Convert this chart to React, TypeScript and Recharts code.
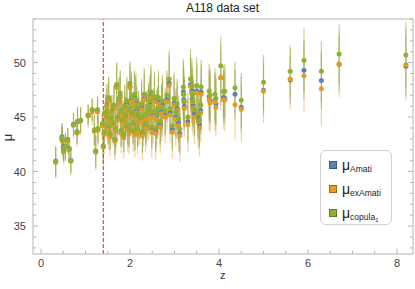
import { ScatterChart, Scatter, XAxis, YAxis, ErrorBar, ReferenceLine } from "recharts";

// redshift of each GRB in the A118 sample
const z = [
  0.33, 0.47, 0.48, 0.5, 0.51, 0.55, 0.6, 0.63, 0.67, 0.73, 0.81, 0.82, 0.89, 1.06, 1.15, 1.2, 1.23, 1.27, 1.28,
  1.38, 1.4, 1.42, 1.45, 1.48, 1.48, 1.51, 1.52, 1.55, 1.57, 1.59, 1.62, 1.64, 1.66, 1.68, 1.7, 1.72, 1.75, 1.78,
  1.8, 1.8, 1.84, 1.86, 1.88, 1.9, 1.93, 1.95, 1.98, 2.0, 2.0, 2.03, 2.05, 2.07, 2.1, 2.11, 2.13, 2.15, 2.17, 2.19,
  2.22, 2.26, 2.28, 2.3, 2.32, 2.35, 2.37, 2.4, 2.42, 2.45, 2.47, 2.49, 2.52, 2.55, 2.58, 2.6, 2.62, 2.64, 2.68,
  2.71, 2.73, 2.79, 2.83, 2.88, 2.9, 2.95, 2.99, 3.03, 3.06, 3.09, 3.12, 3.2, 3.21, 3.22, 3.3, 3.36, 3.39, 3.4,
  3.42, 3.45, 3.5, 3.53, 3.56, 3.59, 3.6, 3.78, 3.8, 3.91, 3.93, 4.04, 4.1, 4.13, 4.36, 4.5, 5.0, 5.6, 5.91, 6.3,
  6.7, 8.2,
];

const muAmati = [
  40.97, 43.2, 42.95, 42.3, 42.0, 42.35, 42.95, 42.15, 41.05, 44.35, 43.65, 44.6, 44.7, 45.15, 45.6, 43.75, 41.9, 45.55, 43.9,
  44.3, 42.35, 43.5, 45.3, 46.0, 45.0, 44.0, 46.6, 43.4, 44.7, 45.4, 44.3, 45.9, 42.9, 43.8, 47.8, 44.8, 46.4, 46.9,
  45.3, 43.6, 44.6, 43.3, 45.7, 44.9, 46.2, 44.1, 43.7, 47.8, 45.5, 46.6, 45.1, 44.3, 46.8, 43.6, 46.3, 45.6, 43.8, 45.0,
  44.6, 45.9, 43.5, 44.7, 46.7, 44.2, 45.0, 45.3, 45.7, 46.1, 46.9, 43.9, 45.2, 46.5, 43.7, 45.0, 45.4, 46.4, 44.3,
  45.5, 46.1, 45.2, 46.6, 48.1, 45.4, 43.9, 46.3, 45.0, 45.8, 44.5, 43.5, 47.3, 46.6, 46.0, 44.6, 48.0, 47.4, 46.6,
  46.1, 45.3, 47.4, 44.9, 44.3, 45.6, 47.3, 46.9, 46.5, 46.6, 46.2, 48.6, 46.8, 46.73, 47.1, 45.9, 47.47, 48.4, 49.3, 48.35,
  49.85, 49.66,
];

const muExAmati = [
  40.9, 43.0, 42.8, 42.2, 41.85, 42.25, 42.8, 42.0, 40.95, 44.25, 43.55, 44.55, 44.65, 45.1, 45.5, 43.7, 41.8, 45.5, 43.8,
  44.2, 42.25, 43.4, 45.2, 45.9, 44.9, 43.9, 46.5, 43.2, 44.6, 45.3, 44.2, 45.8, 42.8, 43.7, 47.7, 44.7, 46.3, 46.8,
  45.2, 43.5, 44.4, 43.1, 45.6, 44.8, 46.0, 43.9, 43.5, 47.7, 45.4, 46.4, 45.0, 44.1, 46.6, 43.4, 46.1, 45.4, 43.6, 44.9,
  44.5, 45.7, 43.3, 44.6, 46.6, 44.0, 44.8, 45.1, 45.5, 46.0, 46.8, 43.6, 45.0, 46.4, 43.5, 44.8, 45.3, 46.2, 44.1,
  45.3, 45.9, 45.0, 46.4, 47.9, 45.2, 43.6, 46.1, 44.8, 45.6, 44.2, 43.3, 47.1, 46.4, 45.8, 44.3, 47.8, 47.2, 46.4,
  45.8, 45.0, 47.2, 44.6, 44.0, 45.4, 47.1, 46.6, 46.3, 46.4, 45.9, 48.6, 46.6, 46.6, 46.13, 45.73, 47.38, 48.5, 48.8, 47.6,
  49.85, 49.8,
];

const muCopula = [
  40.85, 43.1, 42.9, 42.2, 41.9, 42.3, 42.9, 42.1, 41.0, 44.3, 43.6, 44.6, 44.7, 45.2, 45.7, 43.85, 41.85, 45.7, 43.95,
  44.4, 42.3, 43.6, 45.5, 46.2, 45.15, 44.2, 46.8, 43.5, 44.9, 45.6, 44.5, 46.1, 43.0, 44.0, 48.0, 45.0, 46.7, 47.2,
  45.6, 43.8, 44.8, 43.4, 46.0, 45.2, 46.5, 44.3, 43.9, 48.1, 45.8, 46.9, 45.4, 44.5, 47.1, 43.8, 46.6, 45.9, 44.0, 45.3,
  44.9, 46.2, 43.7, 45.0, 47.1, 44.4, 45.3, 45.6, 46.0, 46.5, 47.3, 44.1, 45.5, 46.9, 44.0, 45.3, 45.8, 46.8, 44.6,
  45.9, 46.5, 45.6, 47.0, 48.5, 45.8, 44.2, 46.7, 45.45, 46.2, 44.85, 43.9, 47.75, 47.1, 46.4, 45.0, 48.5, 47.9, 47.1,
  46.5, 45.7, 47.9, 45.3, 44.7, 46.1, 47.75, 47.4, 47.0, 47.1, 46.7, 49.7, 47.35, 47.37, 47.7, 46.55, 48.2, 49.2, 50.2, 49.2,
  50.8, 50.7,
];

const errAmati = [
  1.3, 1.2, 1.1, 1.0, 1.0, 1.1, 1.0, 1.0, 1.1, 1.0, 1.0, 1.2, 1.1, 0.9, 1.0, 1.3, 1.4, 1.1, 1.2,
  1.1, 1.3, 1.4, 1.5, 1.6, 1.4, 1.5, 1.7, 1.4, 1.6, 1.3, 1.5, 1.7, 1.4, 1.6, 1.8, 1.5, 1.7, 1.9,
  1.6, 1.4, 1.7, 1.5, 1.8, 1.6, 2.0, 1.7, 1.5, 1.8, 1.7, 2.1, 1.6, 1.8, 2.0, 1.7, 2.2, 1.8, 1.6, 1.9,
  1.7, 2.1, 1.8, 1.8, 2.2, 1.7, 1.9, 1.8, 2.0, 2.2, 2.3, 1.8, 1.9, 2.1, 1.9, 2.0, 1.8, 2.3, 1.9,
  2.0, 2.2, 1.9, 2.1, 2.4, 2.0, 1.9, 2.2, 2.0, 2.1, 1.9, 1.9, 2.4, 2.2, 2.1, 2.0, 2.5, 2.3, 2.2,
  2.1, 2.0, 2.4, 2.0, 2.1, 2.2, 2.3, 2.3, 2.2, 2.2, 2.1, 2.5, 2.2, 2.3, 2.3, 2.3, 2.3, 2.2, 2.6, 2.6,
  2.5, 2.8,
];

const errExAmati = [
  1.5, 1.4, 1.3, 1.2, 1.2, 1.3, 1.2, 1.2, 1.3, 1.2, 1.3, 1.4, 1.3, 1.1, 1.2, 1.6, 1.7, 1.4, 1.5,
  1.4, 1.7, 1.8, 1.9, 2.1, 1.8, 1.9, 2.2, 1.8, 2.0, 1.7, 1.9, 2.2, 1.8, 2.0, 2.3, 1.9, 2.2, 2.4,
  2.0, 1.8, 2.1, 1.9, 2.3, 2.0, 2.5, 2.1, 1.9, 2.3, 2.2, 2.6, 2.0, 2.3, 2.5, 2.1, 2.7, 2.3, 2.0, 2.4,
  2.1, 2.6, 2.3, 2.3, 2.7, 2.2, 2.4, 2.3, 2.5, 2.7, 2.8, 2.3, 2.4, 2.6, 2.4, 2.5, 2.3, 2.8, 2.4,
  2.5, 2.7, 2.4, 2.6, 2.9, 2.5, 2.4, 2.7, 2.5, 2.6, 2.4, 2.4, 2.9, 2.7, 2.6, 2.5, 3.0, 2.8, 2.7,
  2.6, 2.5, 2.9, 2.5, 2.6, 2.7, 2.8, 2.8, 2.7, 2.7, 2.6, 3.0, 2.7, 2.9, 3.2, 3.0, 2.9, 2.8, 3.3, 3.4,
  3.0, 3.3,
];

const errCopula = [
  1.4, 1.3, 1.2, 1.1, 1.0, 1.2, 1.1, 1.0, 1.2, 1.0, 1.1, 1.3, 1.2, 0.9, 1.0, 1.4, 1.5, 1.2, 1.3,
  1.2, 1.4, 1.5, 1.6, 1.8, 1.5, 1.6, 1.9, 1.5, 1.7, 1.4, 1.6, 1.8, 1.5, 1.7, 2.0, 1.6, 1.9, 2.1,
  1.7, 1.5, 1.8, 1.6, 2.0, 1.7, 2.2, 1.8, 1.6, 2.0, 1.9, 2.3, 1.7, 1.9, 2.2, 1.8, 2.4, 2.0, 1.7, 2.1,
  1.8, 2.3, 1.9, 2.0, 2.4, 1.8, 2.1, 1.9, 2.2, 2.4, 2.5, 1.9, 2.1, 2.3, 2.0, 2.2, 2.0, 2.5, 2.1,
  2.2, 2.4, 2.1, 2.3, 2.6, 2.2, 2.0, 2.4, 2.2, 2.3, 2.1, 2.0, 2.6, 2.4, 2.3, 2.2, 2.7, 2.5, 2.4,
  2.3, 2.2, 2.6, 2.2, 2.3, 2.4, 2.5, 2.5, 2.4, 2.4, 2.3, 2.7, 2.4, 2.5, 2.4, 2.5, 2.5, 2.4, 2.9, 2.8,
  2.7, 3.0,
];

const xTicks = [0, 0.5, 1, 1.5, 2, 2.5, 3, 3.5, 4, 4.5, 5, 5.5, 6, 6.5, 7, 7.5, 8];
const xLabels = [0, 2, 4, 6, 8];
const yTicks = [33, 34, 35, 36, 37, 38, 39, 40, 41, 42, 43, 44, 45, 46, 47, 48, 49, 50, 51, 52, 53, 54];
const yLabels = [35, 40, 45, 50];
const zSplit = 1.4;

const BLUE = "#5e81b5";
const ORANGE = "#e19c24";
const GREEN = "#8fb032";
const FRAME = "#b5b5b5";
const FONT = "'Liberation Sans', Arial, sans-serif";

const amati = z.map((v, i) => ({ z: v, mu: muAmati[i], err: errAmati[i] }));
const exAmati = z.map((v, i) => ({ z: v, mu: muExAmati[i], err: errExAmati[i] }));
const copula = z.map((v, i) => ({ z: v, mu: muCopula[i], err: errCopula[i] }));

const dot = (color: string) => (p: any) => <circle cx={p.cx} cy={p.cy} r={2.5} fill={color} />;

function tickMark(side: "bottom" | "top" | "left" | "right", labels: number[]) {
  return (p: any) => {
    const v = p.payload.value;
    const major = labels.includes(v);
    const len = major ? 5 : 3;
    if (side === "bottom")
      return (
        <g>
          <line x1={p.x} x2={p.x} y1={p.y} y2={p.y - len} stroke={FRAME} />
          {major && (
            <text x={p.x} y={p.y + 13} textAnchor="middle" fontSize={11} fill="#444" fontFamily={FONT}>
              {v}
            </text>
          )}
        </g>
      );
    if (side === "left")
      return (
        <g>
          <line x1={p.x} x2={p.x + len} y1={p.y} y2={p.y} stroke={FRAME} />
          {major && (
            <text x={p.x - 7} y={p.y + 4} textAnchor="end" fontSize={11} fill="#444" fontFamily={FONT}>
              {v}
            </text>
          )}
        </g>
      );
    if (side === "top") return <line x1={p.x} x2={p.x} y1={p.y} y2={p.y + len} stroke={FRAME} />;
    return <line x1={p.x} x2={p.x - len} y1={p.y} y2={p.y} stroke={FRAME} />;
  };
}

const legendItems = [
  { color: BLUE, sub: "Amati", subsub: "" },
  { color: ORANGE, sub: "exAmati", subsub: "" },
  { color: GREEN, sub: "copula", subsub: "1" },
];

export default function App() {
  return (
    <div style={{ position: "absolute", left: 0, top: 0, width: 415, height: 289, background: "#fff", fontFamily: FONT }}>
      <ScatterChart width={415} height={289} margin={{ top: 0, right: 0, bottom: 0, left: 0 }}>
        <XAxis
          type="number"
          dataKey="z"
          domain={[-0.18, 8.36]}
          ticks={xTicks}
          interval={0}
          height={35}
          tickLine={false}
          tickSize={0}
          tickMargin={0}
          stroke={FRAME}
          tick={tickMark("bottom", xLabels)}
          allowDataOverflow
        />
        <XAxis
          xAxisId="top"
          orientation="top"
          type="number"
          domain={[-0.18, 8.36]}
          ticks={xTicks}
          interval={0}
          height={19}
          tickLine={false}
          tickSize={0}
          tickMargin={0}
          stroke={FRAME}
          tick={tickMark("top", xLabels)}
          allowDataOverflow
        />
        <YAxis
          type="number"
          dataKey="mu"
          domain={[32.44, 54.0]}
          ticks={yTicks}
          interval={0}
          width={33}
          tickLine={false}
          tickSize={0}
          tickMargin={0}
          stroke={FRAME}
          tick={tickMark("left", yLabels)}
          allowDataOverflow
        />
        <YAxis
          yAxisId="right"
          orientation="right"
          type="number"
          domain={[32.44, 54.0]}
          ticks={yTicks}
          interval={0}
          width={2}
          tickLine={false}
          tickSize={0}
          tickMargin={0}
          stroke={FRAME}
          tick={tickMark("right", yLabels)}
          allowDataOverflow
        />
        <Scatter data={amati} fill={BLUE} shape={dot(BLUE)} isAnimationActive={false}>
          <ErrorBar dataKey="err" direction="y" width={0} stroke={BLUE} strokeOpacity={0.45} strokeWidth={1} />
        </Scatter>
        <Scatter data={exAmati} fill={ORANGE} shape={dot(ORANGE)} isAnimationActive={false}>
          <ErrorBar dataKey="err" direction="y" width={0} stroke={ORANGE} strokeOpacity={0.45} strokeWidth={1.2} />
        </Scatter>
        <Scatter data={copula} fill={GREEN} shape={dot(GREEN)} isAnimationActive={false}>
          <ErrorBar dataKey="err" direction="y" width={0} stroke={GREEN} strokeOpacity={0.55} strokeWidth={1.2} />
        </Scatter>
        <ReferenceLine x={zSplit} stroke="#e0483a" strokeDasharray="4 2" strokeWidth={1.2} ifOverflow="visible" />
      </ScatterChart>

      <div style={{ position: "absolute", left: 0, width: 415, top: 1, textAlign: "center", paddingLeft: 30, boxSizing: "border-box", fontSize: 12, color: "#222" }}>
        A118 data set
      </div>
      <div style={{ position: "absolute", left: 220, top: 273, fontSize: 11, lineHeight: "4px", color: "#333" }}>z</div>
      <div style={{ position: "absolute", left: 4, top: 130, fontSize: 13, color: "#333", transform: "rotate(-90deg)" }}>μ</div>

      <div
        style={{
          position: "absolute",
          left: 320,
          top: 150,
          width: 72,
          height: 75,
          border: "1px solid #d0d0d0",
          borderRadius: 6,
          background: "#fff",
          boxSizing: "border-box",
        }}
      >
        {legendItems.map((it, i) => (
          <div key={i} style={{ position: "absolute", left: 8, top: 4 + i * 24, height: 20, display: "flex", alignItems: "center", color: "#222" }}>
            <span style={{ display: "inline-block", width: 6, height: 6, background: it.color, border: "0.5px solid rgba(0,0,0,0.3)", marginRight: 5 }} />
            <span style={{ fontSize: 14 }}>μ</span>
            <span style={{ fontSize: 8.5, position: "relative", top: 4 }}>
              {it.sub}
              {it.subsub && <span style={{ fontSize: 6, position: "relative", top: 2 }}>{it.subsub}</span>}
            </span>
          </div>
        ))}
      </div>
    </div>
  );
}
